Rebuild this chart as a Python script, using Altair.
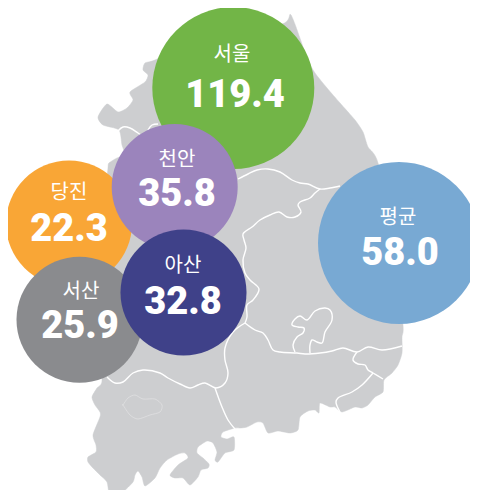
import altair as alt
import pandas as pd

# Bubble data
names = ["서울", "평균", "당진", "천안", "서산", "아산"]
values = ["119.4", "58.0", "22.3", "35.8", "25.9", "32.8"]
tiers = ["large", "large", "small", "small", "small", "small"]
colors = ["#72B547", "#78A9D3", "#F9A636", "#9B84BC", "#8A8B8E", "#3F4189"]
cx = [233.3, 399, 69, 174.7, 79.5, 183.5]
cy = [88, 243, 223.5, 187, 319.7, 292.5]
name_x = [232, 398, 69, 177, 81, 183]
name_y = [55, 218, 193, 160, 292, 266]
value_x = [235, 400, 69, 177, 80, 183]
value_y = [96, 254, 230, 195, 327, 303]

# Land outline
outline_x = [291,307,315,327,340,355,363,368,378,395,403,402,402,398,392,384,383,375,368,362,355,342,335,330,320,319,315,308,300,298,290,278,268,263,257,247,240,235,223,221,227,234,234,225,218,215,217,213,207,198,197,203,209,208,201,198,190,183,175,170,178,188,185,178,167,160,155,145,142,138,135,133,123,113,109,107,100,93,88,88,96,96,93,100,100,95,92,97,102,100,105,112,105,108,109,117,125,122,119,103,98,107,118,127,133,130,145,148,143,145,155,200,282]
outline_y = [15,58,73,88,103,120,132,147,163,250,325,337,353,365,373,380,392,397,405,408,407,412,407,407,403,413,410,411,417,430,433,431,433,423,422,427,428,428,432,437,439,437,450,453,462,460,452,443,441,447,453,458,464,468,470,477,485,478,478,475,465,458,453,454,460,468,478,486,477,471,475,482,492,498,493,482,475,468,462,457,452,445,435,417,412,405,397,388,381,340,300,260,210,168,163,158,155,145,130,125,117,104,112,108,100,92,82,75,70,63,60,40,24]
outline_order = list(range(len(outline_x)))

# Region borders
borders = {
    "a": [(238,179),(248,174),(257,170),(268,169),(280,172),(292,180),(300,183),(308,184),(320,189),(330,188),(340,186)],
    "b": [(320,189),(315,193),(310,198),(300,202),(298,205),(301,212),(295,217),(287,217),(279,212),(270,215),(260,220),(252,227),(243,234),(244,240),(246,248),(243,260),(245,273),(250,280),(259,289),(253,300),(247,305),(247,317),(245,323)],
    "c": [(245,323),(255,330),(263,333),(268,340),(273,350),(280,352),(297,353),(305,354),(320,353),(332,351),(343,348),(357,352),(368,347),(382,350),(402,346)],
    "d": [(245,323),(233,332),(225,348),(225,360),(228,373),(225,383),(216,388),(205,383),(198,385),(190,388),(180,384),(168,378),(160,373),(143,370),(133,373),(123,382),(115,383),(107,377)],
    "e": [(215,388),(222,407),(228,420),(235,429)],
    "f": [(295,352),(293,345),(297,337),(303,333),(304,328),(298,327),(292,325),(295,319),(300,316),(307,320),(315,311),(325,308),(330,310),(332,320),(325,332),(322,343),(317,342),(312,340),(310,345),(310,353)],
    "g": [(357,352),(353,360),(358,364),(365,365),(368,370),(373,373),(383,379)],
    "h": [(373,373),(362,385),(352,392),(338,398),(336,402),(340,412)],
    "i": [(118,131),(123,127),(130,128),(138,133),(145,138)],
    "j": [(148,130),(152,125),(158,124)],
}
lake_x = [123,128,135,143,155,162,160,150,138,130,123]
lake_y = [405,398,395,399,399,405,412,415,419,415,405]

land = pd.DataFrame({"x": outline_x, "y": outline_y, "o": outline_order})
rows = []
for k, pts in borders.items():
    for i, (a, b) in enumerate(pts):
        rows.append({"x": a, "y": b, "o": i, "k": k})
lines = pd.DataFrame(rows)
lake = pd.DataFrame({"x": lake_x, "y": lake_y, "o": list(range(len(lake_x)))})
bub = pd.DataFrame({"n": names, "v": values, "tier": tiers, "c": colors, "cx": cx, "cy": cy,
                    "nx": name_x, "ny": name_y, "vx": value_x, "vy": value_y,
                    "z": list(range(len(names)))})

W, H = 462, 482
xs = alt.Scale(domain=[8, 8 + W], nice=False, zero=False)
ys = alt.Scale(domain=[8 + H, 8], nice=False, zero=False)
X = lambda f: alt.X(f, type="quantitative", scale=xs, axis=None)
Y = lambda f: alt.Y(f, type="quantitative", scale=ys, axis=None)

land_l = alt.Chart(land).mark_line(fill="#CDCED0", stroke="#CDCED0", strokeWidth=0.5,
                                   interpolate="cardinal-closed", tension=0.35).encode(
    x=X("x"), y=Y("y"), order=alt.Order("o:Q"))
border_l = alt.Chart(lines).mark_line(stroke="#FFFFFF", strokeWidth=1.4, interpolate="catmull-rom").encode(
    x=X("x"), y=Y("y"), detail="k:N", order=alt.Order("o:Q"))
lake_l = alt.Chart(lake).mark_line(stroke="#E2E3E4", strokeWidth=0.7, interpolate="cardinal-closed", tension=0.2).encode(
    x=X("x"), y=Y("y"), order=alt.Order("o:Q"))
circles = alt.Chart(bub).mark_circle(opacity=1).encode(
    x=X("cx"), y=Y("cy"),
    size=alt.Size("tier:N", scale=alt.Scale(domain=["large", "small"],
                                            range=[(2 * 81) ** 2, (2 * 63) ** 2]), legend=None),
    color=alt.Color("c:N", scale=None),
    order=alt.Order("z:Q"))
name_t = alt.Chart(bub).mark_text(font="Noto Sans CJK KR", fontSize=20, fontWeight=400, color="#FFFFFF",
                                  baseline="middle", align="center").encode(
    x=X("nx"), y=Y("ny"), text="n:N")
value_t = alt.Chart(bub).mark_text(font="Roboto", fontSize=38, fontWeight=900, color="#FFFFFF",
                                   baseline="middle", align="center").encode(
    x=X("vx"), y=Y("vy"), text="v:N")

chart = alt.layer(land_l, border_l, lake_l, circles, name_t, value_t).resolve_scale(
    size="independent").properties(width=W, height=H, padding=0, background="#FFFFFF",
                                   autosize=alt.AutoSizeParams(type="none")).configure_view(stroke=None)
chart.save("out.html", embed_options={"renderer": "svg", "actions": False})
